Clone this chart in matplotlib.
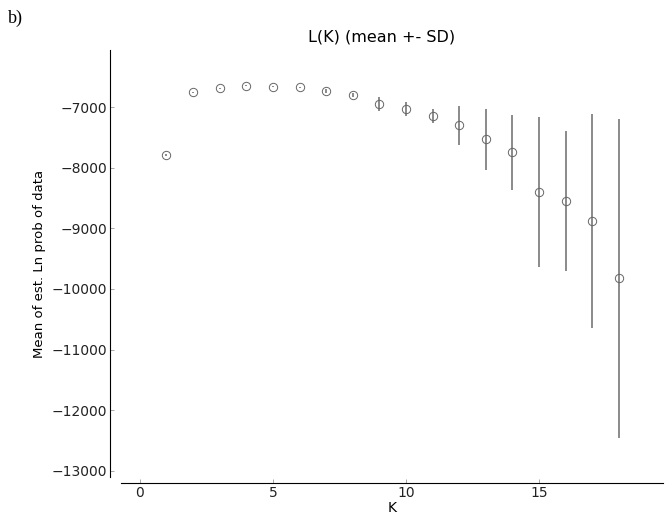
"""
L(K) mean +- SD plot (STRUCTURE-style output)
"""
from matplotlib import pyplot as plt

# number of clusters
K = list(range(1, 19))
# mean of estimated Ln prob of data
mean_lnp = [-7790, -6758, -6692, -6649, -6665, -6676, -6736, -6802, -6950,
            -7038, -7148, -7302, -7533, -7747, -8395, -8549, -8879, -9824]
# standard deviation across runs
sd_lnp = [12, 10, 10, 8, 10, 12, 35, 30, 110,
          118, 110, 321, 502, 618, 1236, 1154, 1767, 2631]

W, H = 671, 518
fig = plt.figure(figsize=(W / 100, H / 100), dpi=100)
ax = fig.add_axes([121 / W, (H - 477) / H, (663 - 121) / W, (477 - 50) / H])

ax.errorbar(K, mean_lnp, yerr=sd_lnp, fmt='o', ms=6, mfc='none', mec='#666666',
            mew=0.7, ecolor='#8a8a8a', elinewidth=1.4, capsize=0)

ax.set_xlim(-0.71, 19.66)
ax.set_ylim(-13100, -6060)
ax.set_xticks([0, 5, 10, 15])
ax.set_yticks(range(-13000, -6999, 1000))

for side in ['top', 'right']:
    ax.spines[side].set_visible(False)
ax.spines['left'].set_position(('outward', 8))
ax.spines['bottom'].set_position(('outward', 4.3))
ax.spines['left'].set_bounds(-13100, -6060)
ax.tick_params(direction='in', length=3, width=0.6, color='#999999',
               labelsize=10, labelcolor='#222222', pad=2)

# title sits a little left of the axes centre in the original
ax.text(0.48, 1.012, 'L(K) (mean +- SD)', transform=ax.transAxes, fontsize=11.5,
        ha='center', va='bottom')
ax.set_xlabel('K', fontsize=10, labelpad=1)
ax.set_ylabel('Mean of est. Ln prob of data', fontsize=9.5, labelpad=4)

fig.text(8 / W, 1 - 18 / H, 'b)', family='Liberation Serif', fontsize=13, va='center')

plt.savefig('out.png', dpi=100)
